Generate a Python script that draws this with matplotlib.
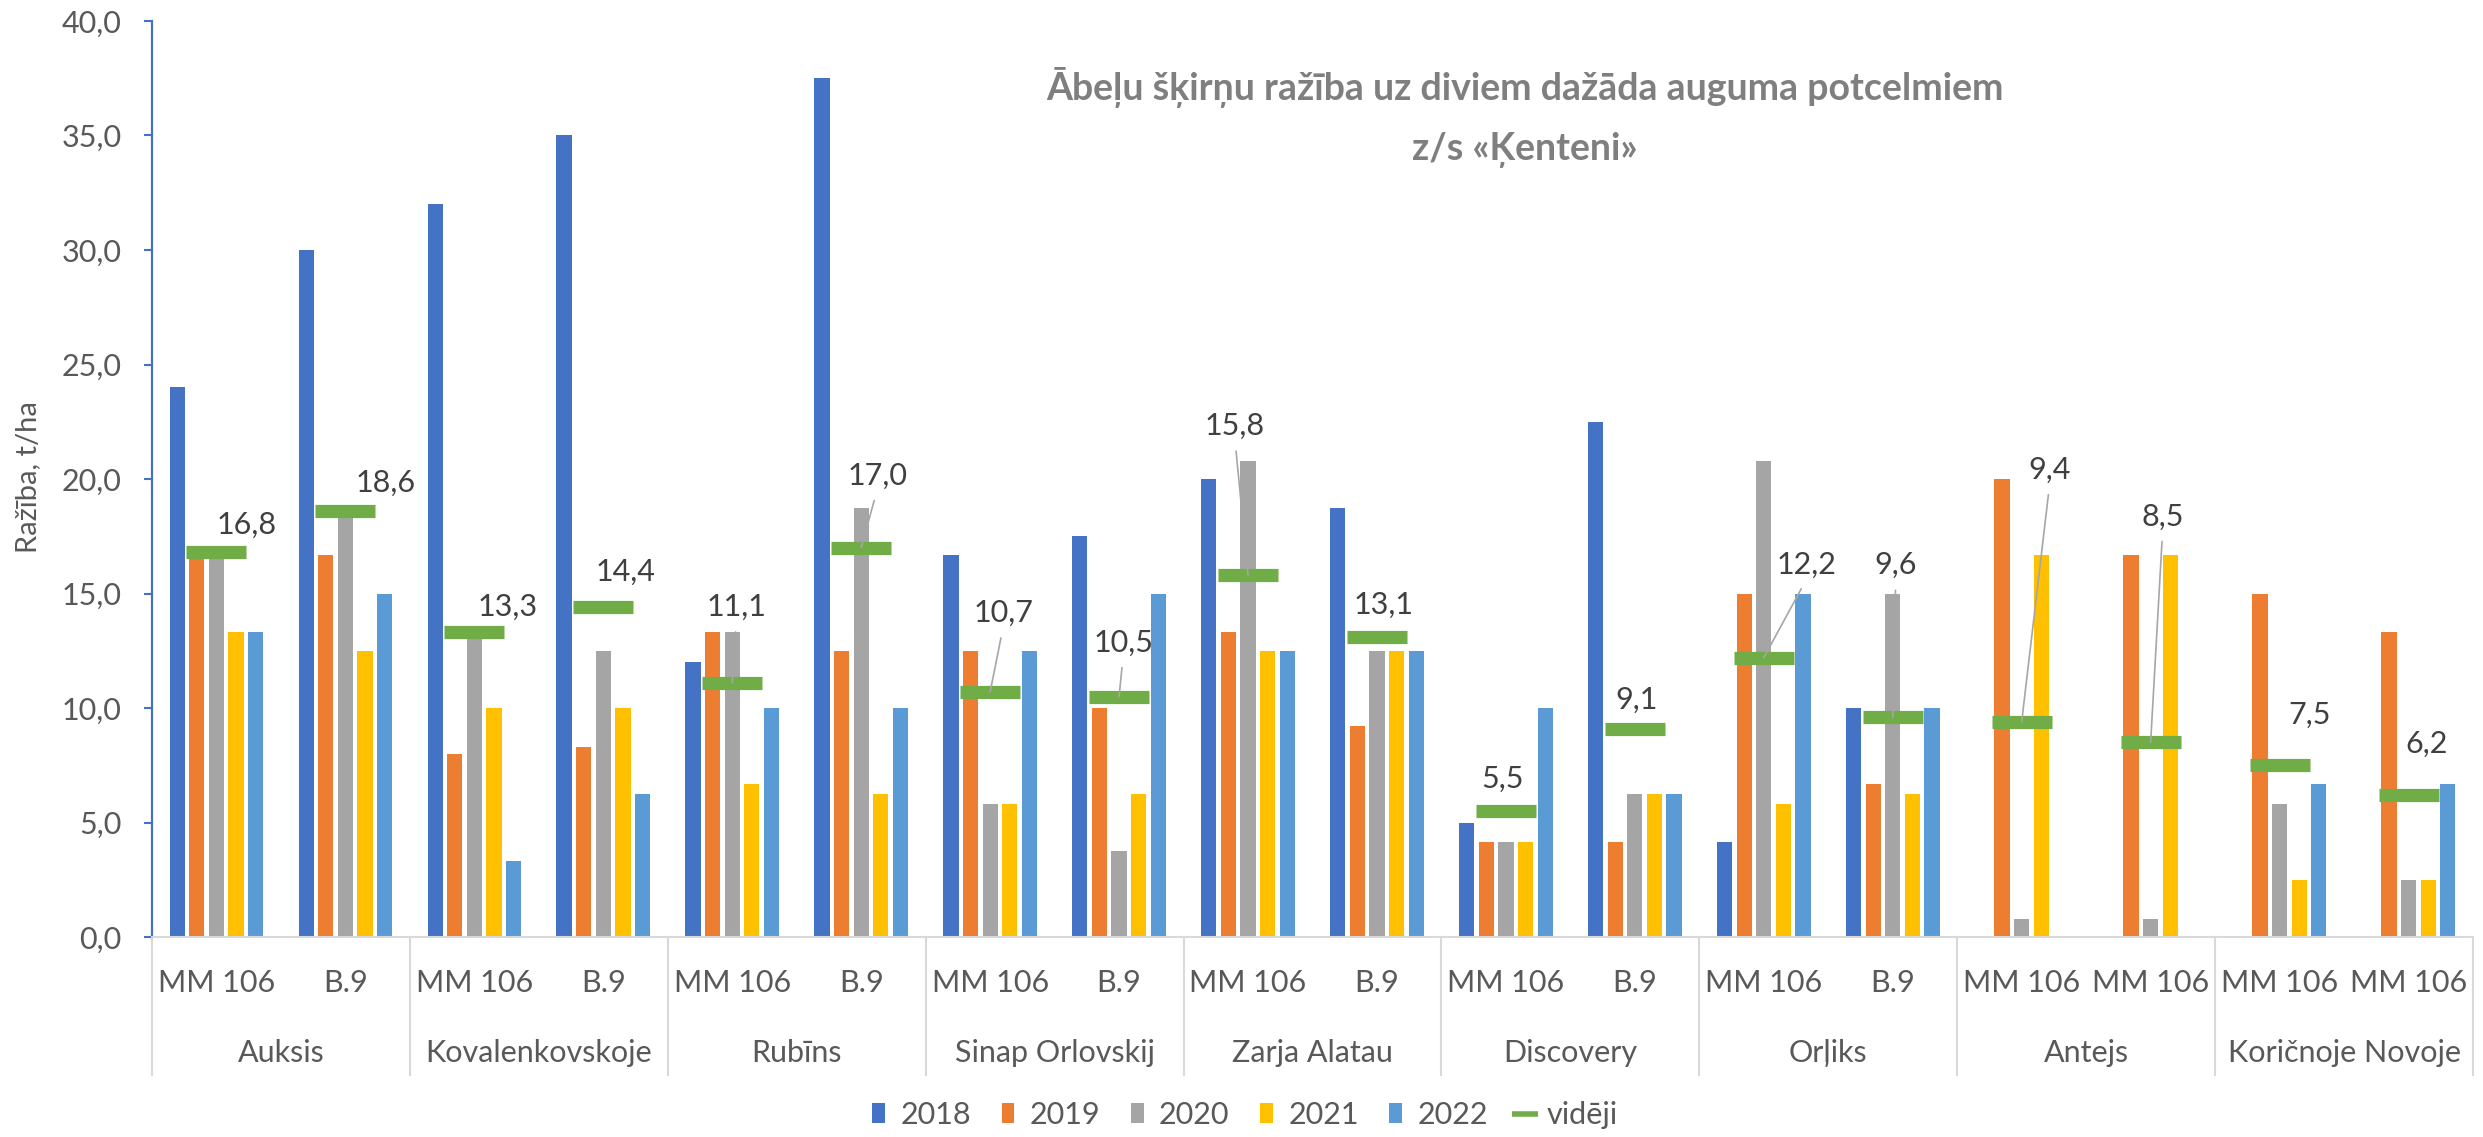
import numpy as np
import matplotlib
matplotlib.use("Agg")
import matplotlib.pyplot as plt
import matplotlib.transforms as mtransforms
from matplotlib.lines import Line2D
from matplotlib.patches import Patch

plt.rcParams['font.family'] = ['Lato', 'DejaVu Sans']

# ---------------- data ----------------
varieties = ["Auksis", "Kovalenkovskoje", "Rubīns", "Sinap Orlovskij", "Zarja Alatau",
             "Discovery", "Orļiks", "Antejs", "Koričnoje Novoje"]
rootstocks = ["MM 106", "B.9", "MM 106", "B.9", "MM 106", "B.9", "MM 106", "B.9",
              "MM 106", "B.9", "MM 106", "B.9", "MM 106", "B.9", "MM 106", "MM 106",
              "MM 106", "MM 106"]
years = ["2018", "2019", "2020", "2021", "2022"]
nan = np.nan
y2018 = [24.0, 30.0, 32.0, 35.0, 12.0, 37.5, 16.7, 17.5, 20.0, 18.75, 5.0, 22.5, 4.17, 10.0, nan, nan, nan, nan]
y2019 = [16.7, 16.7, 8.0, 8.3, 13.3, 12.5, 12.5, 10.0, 13.3, 9.2, 4.17, 4.17, 15.0, 6.67, 20.0, 16.7, 15.0, 13.3]
y2020 = [16.7, 18.75, 13.3, 12.5, 13.3, 18.75, 5.8, 3.75, 20.8, 12.5, 4.17, 6.25, 20.8, 15.0, 0.8, 0.8, 5.8, 2.5]
y2021 = [13.3, 12.5, 10.0, 10.0, 6.67, 6.25, 5.8, 6.25, 12.5, 12.5, 4.17, 6.25, 5.8, 6.25, 16.7, 16.7, 2.5, 2.5]
y2022 = [13.3, 15.0, 3.3, 6.25, 10.0, 10.0, 12.5, 15.0, 12.5, 12.5, 10.0, 6.25, 15.0, 10.0, nan, nan, 6.67, 6.67]
avg = [16.8, 18.6, 13.3, 14.4, 11.1, 17.0, 10.7, 10.5, 15.8, 13.1, 5.5, 9.1, 12.2, 9.6, 9.4, 8.5, 7.5, 6.2]
avg_name = "vidēji"
title_lines = ["Ābeļu šķirņu ražība uz diviem dažāda auguma potcelmiem", "z/s «Ķenteni»"]
ylabel = "Ražība, t/ha"

# label placement (pixel offsets from the average marker) and leader lines
label_dx = [30, 40, 33, 22, 4, 16, 13, 4, -13, 7, -3, 2, 43, 3, 28, 12, 30, 18]
label_dy = [27, 28, 26, 35, 76, 72, 79, 54, 149, 32, 32, 29, 93, 152, 252, 226, 50, 51]
leader = [False, False, False, False, True, True, True, True, True, False, False, False,
          True, True, True, True, False, False]

colors = ["#4472C4", "#ED7D31", "#A5A5A5", "#FFC000", "#5B9BD5"]
green = "#70AD47"
txt = "#595959"

# ---------------- figure ----------------
W, H = 2483, 1137
fig = plt.figure(figsize=(W / 100, H / 100), dpi=100)
left, right, top, bottom = 152, 2473, 21, 937
ax = fig.add_axes([left / W, 1 - bottom / H, (right - left) / W, (bottom - top) / H])

x = np.arange(len(rootstocks))
series = [y2018, y2019, y2020, y2021, y2022]
pitch, bw = 0.152, 0.118
for j, (vals, c) in enumerate(zip(series, colors)):
    ax.bar(x + (j - 2) * pitch, vals, width=bw, color=c, zorder=2)

ax.plot(x, avg, ls='none', marker='_', ms=43, mew=9.5, color=green, zorder=3)

for i, v in enumerate(avg):
    s = f"{v:.1f}".replace('.', ',')
    if leader[i]:
        ax.annotate(s, xy=(i, v), xytext=(label_dx[i], label_dy[i]), textcoords='offset pixels',
                    ha='center', va='center', fontsize=22, color='#404040', zorder=5,
                    arrowprops=dict(arrowstyle='-', color='#A6A6A6', lw=1.2,
                                    relpos=(0.5, 0.0), shrinkA=6, shrinkB=0))
    else:
        ax.annotate(s, xy=(i, v), xytext=(label_dx[i], label_dy[i]), textcoords='offset pixels',
                    ha='center', va='center', fontsize=22, color='#404040', zorder=5)

ax.set_xlim(-0.5, len(rootstocks) - 0.5)
ax.set_ylim(0, 40)
ax.set_yticks(np.arange(0, 41, 5))
ax.set_yticklabels([f"{t:.1f}".replace('.', ',') for t in np.arange(0, 41, 5)])
ax.set_xticks([])
ax.tick_params(axis='y', colors='#4472C4', labelcolor=txt, length=6, width=1.5,
               pad=16, labelsize=22)
for sp in ['top', 'right']:
    ax.spines[sp].set_visible(False)
ax.spines['left'].set_color('#4472C4')
ax.spines['left'].set_linewidth(1.6)
ax.spines['bottom'].set_color('#D9D9D9')
ax.spines['bottom'].set_linewidth(1.5)

trans = mtransforms.blended_transform_factory(ax.transData, ax.transAxes)
ph = bottom - top
for i, r in enumerate(rootstocks):
    ax.text(i, -46 / ph, r, transform=trans, ha='center', va='center', fontsize=22, color=txt)
for k, name in enumerate(varieties):
    ax.text(2 * k + 0.5, -116 / ph, name, transform=trans, ha='center', va='center',
            fontsize=22, color=txt)
for k in range(len(varieties) + 1):
    xb = 2 * k - 0.5
    ax.plot([xb, xb], [0, -138 / ph], transform=trans, color='#D9D9D9', lw=1.5, clip_on=False)

fig.text(1525 / W, 1 - 87 / H, title_lines[0], ha='center', va='center', fontsize=27,
         fontweight='bold', color='#7F7F7F')
fig.text(1525 / W, 1 - 150 / H, title_lines[1], ha='center', va='center', fontsize=27,
         fontweight='bold', color='#7F7F7F')
fig.text(28 / W, 1 - 477 / H, ylabel, rotation=90, ha='center', va='center', fontsize=21, color=txt)

handles = [Patch(facecolor=c, edgecolor='none') for c in colors]
handles.append(Line2D([], [], ls='none', marker='_', ms=19, mew=4, color=green))
fig.legend(handles, years + [avg_name], loc='center', bbox_to_anchor=(1245 / W, 1 - 1115 / H),
           ncol=6, frameon=False, fontsize=22, handlelength=0.42, handleheight=0.65,
           handletextpad=0.5, columnspacing=1.0, labelcolor=txt)

fig.savefig("out.png", dpi=100)
